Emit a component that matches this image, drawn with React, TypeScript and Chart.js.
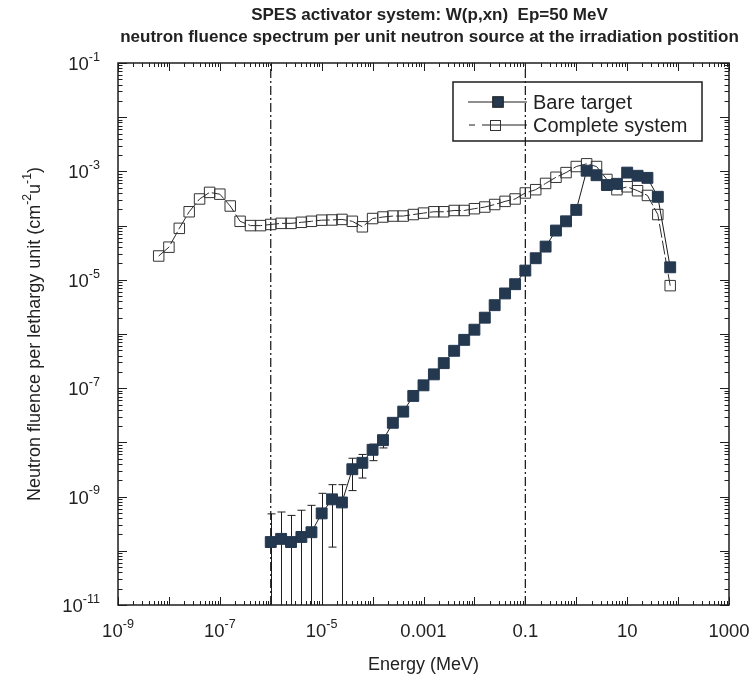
import React, { useEffect, useRef } from 'react';
import { Chart, registerables } from 'chart.js';

Chart.register(...registerables);

// Energy grid (MeV)
const energyMeV = [
  6.3e-9, 1e-8, 1.6e-8, 2.5e-8, 4e-8, 6.3e-8,
  1e-7, 1.6e-7, 2.5e-7, 4e-7, 6.3e-7,
  1e-6, 1.6e-6, 2.5e-6, 4e-6, 6.3e-6,
  1e-5, 1.6e-5, 2.5e-5, 4e-5, 6.3e-5,
  1e-4, 1.6e-4, 2.5e-4, 4e-4, 6.3e-4,
  1e-3, 1.6e-3, 2.5e-3, 4e-3, 6.3e-3,
  0.01, 0.016, 0.025, 0.04, 0.063,
  0.1, 0.16, 0.25, 0.4, 0.63,
  1, 1.6, 2.5, 4, 6.3,
  10, 16, 25, 40, 70,
];

const completeSystem = [
  2.75e-5, 4.0e-5, 8.9e-5, 1.8e-4, 3.1e-4, 4.1e-4,
  3.8e-4, 2.3e-4, 1.2e-4, 1.0e-4, 1.0e-4,
  1.05e-4, 1.1e-4, 1.1e-4, 1.15e-4, 1.2e-4,
  1.26e-4, 1.27e-4, 1.3e-4, 1.2e-4, 9.5e-5,
  1.35e-4, 1.44e-4, 1.5e-4, 1.5e-4, 1.6e-4,
  1.7e-4, 1.8e-4, 1.8e-4, 1.9e-4, 1.9e-4,
  2.05e-4, 2.2e-4, 2.45e-4, 2.8e-4, 3.1e-4,
  4.0e-4, 4.6e-4, 6.0e-4, 7.8e-4, 9.5e-4,
  1.23e-3, 1.38e-3, 1.23e-3, 7.1e-4, 4.6e-4,
  5.2e-4, 4.4e-4, 3.6e-4, 1.6e-4, 7.8e-6,
];

// Bare target starts at the 1e-6 MeV grid point
const bareStartIndex = 11;
const bareTarget = [
  1.45e-10, 1.66e-10, 1.45e-10, 1.8e-10, 2.2e-10,
  4.9e-10, 8.9e-10, 7.8e-10, 3.2e-9, 4.2e-9,
  7.3e-9, 1.1e-8, 2.3e-8, 3.7e-8, 7.2e-8,
  1.13e-7, 1.8e-7, 2.9e-7, 4.9e-7, 7.8e-7,
  1.2e-6, 2.0e-6, 3.4e-6, 5.6e-6, 8.3e-6,
  1.48e-5, 2.5e-5, 4.1e-5, 8.1e-5, 1.2e-4,
  1.95e-4, 1.03e-3, 8.5e-4, 5.6e-4, 5.9e-4,
  9.5e-4, 8.3e-4, 7.6e-4, 3.4e-4, 1.7e-5,
];

// Error bars of the bare target (low values below the axis run to the bottom)
const errEnergyMeV = [1e-6, 1.6e-6, 2.5e-6, 4e-6, 6.3e-6, 1e-5, 1.6e-5, 2.5e-5, 4e-5, 6.3e-5, 1e-4, 1.6e-4];
const errHigh = [4.8e-10, 5.2e-10, 4.5e-10, 5.6e-10, 6.9e-10, 1.15e-9, 1.66e-9, 1.66e-9, 5.1e-9, 6.0e-9, 9.3e-9, 1.3e-8];
const errLow = [1e-13, 1e-13, 1e-13, 1e-13, 1e-13, 1e-13, 1.17e-10, 1e-13, 1.29e-9, 2.2e-9, 4.6e-9, 7.9e-9];

// Vertical dash-dot marker lines (MeV)
const markerLinesMeV = [1e-6, 0.1];

const xMin = 1e-9;
const xMax = 1000;
const yMin = 1e-11;
const yMax = 0.1;

const xTickLabels = [
  { value: 1e-9, base: '10', exp: '-9' },
  { value: 1e-7, base: '10', exp: '-7' },
  { value: 1e-5, base: '10', exp: '-5' },
  { value: 1e-3, base: '0.001', exp: '' },
  { value: 0.1, base: '0.1', exp: '' },
  { value: 10, base: '10', exp: '' },
  { value: 1000, base: '1000', exp: '' },
];
const yTickLabels = [
  { value: 1e-1, base: '10', exp: '-1' },
  { value: 1e-3, base: '10', exp: '-3' },
  { value: 1e-5, base: '10', exp: '-5' },
  { value: 1e-7, base: '10', exp: '-7' },
  { value: 1e-9, base: '10', exp: '-9' },
  { value: 1e-11, base: '10', exp: '-11' },
];

const titleLines = [
  'SPES activator system: W(p,xn)  Ep=50 MeV',
  'neutron fluence spectrum per unit neutron source at the irradiation postition',
];
const xTitle = 'Energy (MeV)';
const yTitleSegs = [
  { t: 'Neutron fluence per lethargy unit (cm', sup: false },
  { t: '-2', sup: true },
  { t: 'u', sup: false },
  { t: '-1', sup: true },
  { t: ')', sup: false },
];
const legendLabels = ['Bare target', 'Complete system'];

const FF = '"Liberation Sans", Arial, Helvetica, sans-serif';
const INK = '#1e1e1e';
const FILL = '#243850';

type Seg = { t: string; sup: boolean };

function segWidth(ctx: CanvasRenderingContext2D, segs: Seg[], fs: number) {
  let w = 0;
  for (const s of segs) {
    ctx.font = `${s.sup ? fs * 0.68 : fs}px ${FF}`;
    w += ctx.measureText(s.t).width;
  }
  return w;
}

function drawSegs(ctx: CanvasRenderingContext2D, segs: Seg[], x: number, y: number, fs: number) {
  let cx = x;
  ctx.textAlign = 'left';
  ctx.textBaseline = 'middle';
  for (const s of segs) {
    ctx.font = `${s.sup ? fs * 0.68 : fs}px ${FF}`;
    ctx.fillText(s.t, cx, s.sup ? y - fs * 0.42 : y);
    cx += ctx.measureText(s.t).width;
  }
}

function labelSegs(l: { base: string; exp: string }): Seg[] {
  const s: Seg[] = [{ t: l.base, sup: false }];
  if (l.exp) s.push({ t: l.exp, sup: true });
  return s;
}

const decorPlugin = {
  id: 'decor',
  beforeDatasetsDraw(chart: any) {
    const { ctx, chartArea: a, scales } = chart;
    const x = scales.x;
    const y = scales.y;
    ctx.save();
    ctx.beginPath();
    ctx.rect(a.left, a.top, a.right - a.left, a.bottom - a.top);
    ctx.clip();
    ctx.strokeStyle = INK;
    ctx.lineWidth = 1;
    errEnergyMeV.forEach((e, i) => {
      const px = Math.round(x.getPixelForValue(e)) + 0.5;
      const ph = y.getPixelForValue(errHigh[i]);
      const pl = y.getPixelForValue(errLow[i]);
      ctx.beginPath();
      ctx.moveTo(px, ph);
      ctx.lineTo(px, pl);
      ctx.moveTo(px - 4, ph);
      ctx.lineTo(px + 4, ph);
      if (errLow[i] > yMin) {
        ctx.moveTo(px - 4, pl);
        ctx.lineTo(px + 4, pl);
      }
      ctx.stroke();
    });
    ctx.restore();
  },
  afterDraw(chart: any) {
    const { ctx, chartArea: a, scales } = chart;
    const x = scales.x;
    const y = scales.y;
    ctx.save();
    ctx.strokeStyle = INK;
    ctx.fillStyle = INK;

    // ticks (inward, all four sides)
    ctx.lineWidth = 1;
    ctx.beginPath();
    for (let d = -9; d <= 3; d++) {
      for (let m = 1; m <= 9; m++) {
        const v = m * Math.pow(10, d);
        if (v < xMin * 0.999 || v > xMax * 1.001) continue;
        const px = Math.round(x.getPixelForValue(v)) + 0.5;
        const len = m === 1 ? 8 : 4;
        ctx.moveTo(px, a.bottom);
        ctx.lineTo(px, a.bottom - len);
        ctx.moveTo(px, a.top);
        ctx.lineTo(px, a.top + len);
      }
    }
    for (let d = -11; d <= -1; d++) {
      for (let m = 1; m <= 9; m++) {
        const v = m * Math.pow(10, d);
        if (v < yMin * 0.999 || v > yMax * 1.001) continue;
        const py = Math.round(y.getPixelForValue(v)) + 0.5;
        const len = m === 1 ? 9 : 4.5;
        ctx.moveTo(a.left, py);
        ctx.lineTo(a.left + len, py);
        ctx.moveTo(a.right, py);
        ctx.lineTo(a.right - len, py);
      }
    }
    ctx.stroke();

    // frame
    ctx.lineWidth = 1.5;
    ctx.strokeRect(a.left, a.top, a.right - a.left, a.bottom - a.top);

    // tick labels
    const fs = 18.5;
    ctx.fillStyle = '#222';
    for (const l of xTickLabels) {
      const segs = labelSegs(l);
      const w = segWidth(ctx, segs, fs);
      const px = x.getPixelForValue(l.value);
      drawSegs(ctx, segs, px - w / 2, a.bottom + 27, fs);
    }
    for (const l of yTickLabels) {
      const segs = labelSegs(l);
      const w = segWidth(ctx, segs, fs);
      const py = y.getPixelForValue(l.value);
      drawSegs(ctx, segs, a.left - 18 - w, py + 2, fs);
    }

    // axis titles
    ctx.font = `18px ${FF}`;
    ctx.textAlign = 'center';
    ctx.textBaseline = 'middle';
    ctx.fillText(xTitle, (a.left + a.right) / 2, 665);

    ctx.save();
    ctx.translate(35, (a.top + a.bottom) / 2);
    ctx.rotate(-Math.PI / 2);
    const yw = segWidth(ctx, yTitleSegs, 18);
    drawSegs(ctx, yTitleSegs, -yw / 2, 0, 18);
    ctx.restore();

    // title
    ctx.font = `bold 17px ${FF}`;
    ctx.textAlign = 'center';
    ctx.textBaseline = 'middle';
    ctx.fillStyle = '#222';
    const cx = (a.left + a.right) / 2 + 6;
    ctx.fillText(titleLines[0], cx, 15);
    ctx.fillText(titleLines[1], cx, 37);

    // legend
    const lx = 453, ly = 82, lw = 249, lh = 59;
    ctx.lineWidth = 1.5;
    ctx.strokeStyle = INK;
    ctx.strokeRect(lx, ly, lw, lh);
    ctx.lineWidth = 1;
    const r1 = 102, r2 = 125;
    ctx.beginPath();
    ctx.moveTo(468, r1);
    ctx.lineTo(527, r1);
    ctx.stroke();
    ctx.fillStyle = FILL;
    ctx.fillRect(498 - 5.3, r1 - 5.3, 10.6, 10.6);
    ctx.strokeRect(498 - 5.3, r1 - 5.3, 10.6, 10.6);
    ctx.beginPath();
    ctx.moveTo(469, r2);
    ctx.lineTo(475, r2);
    ctx.moveTo(482, r2);
    ctx.lineTo(527, r2);
    ctx.stroke();
    ctx.strokeStyle = '#333';
    ctx.strokeRect(Math.round(495 - 5.3) + 0.5, Math.round(r2 - 5.3) + 0.5, 10, 10);
    ctx.fillStyle = '#222';
    ctx.font = `20px ${FF}`;
    ctx.textAlign = 'left';
    ctx.textBaseline = 'middle';
    ctx.fillText(legendLabels[0], 533, r1 + 1);
    ctx.fillText(legendLabels[1], 533, r2 + 1);

    ctx.restore();
  },
};

export default function App() {
  const ref = useRef<HTMLCanvasElement | null>(null);
  useEffect(() => {
    if (!ref.current) return;
    const completeData = energyMeV.map((e, i) => ({ x: e, y: completeSystem[i] }));
    const bareData = bareTarget.map((v, i) => ({ x: energyMeV[bareStartIndex + i], y: v }));
    const markerSets = markerLinesMeV.map((e) => ({
      label: 'marker',
      data: [
        { x: e, y: yMin },
        { x: e, y: yMax },
      ],
      borderColor: '#111',
      borderWidth: 1.2,
      borderDash: [9, 3, 2, 3],
      pointRadius: 0,
      fill: false,
      order: 3,
    }));
    const chart = new Chart(ref.current, {
      type: 'line',
      data: {
        datasets: [
          ...markerSets,
          {
            label: legendLabels[1],
            data: completeData,
            borderColor: '#2a2a2a',
            borderWidth: 1,
            borderDash: [14, 3],
            pointStyle: 'rect',
            pointRadius: 7.4,
            pointBorderWidth: 1,
            pointBorderColor: '#333',
            pointBackgroundColor: 'rgba(255,255,255,0)',
            fill: false,
            order: 2,
          },
          {
            label: legendLabels[0],
            data: bareData,
            borderColor: '#1a1a1a',
            borderWidth: 1,
            pointStyle: 'rect',
            pointRadius: 7.7,
            pointBorderWidth: 1,
            pointBorderColor: FILL,
            pointBackgroundColor: FILL,
            fill: false,
            order: 1,
          },
        ],
      },
      options: {
        responsive: false,
        animation: false,
        events: [],
        layout: { autoPadding: false, padding: { left: 118, right: 25, top: 63, bottom: 77 } },
        scales: {
          x: { type: 'logarithmic', min: xMin, max: xMax, display: false },
          y: { type: 'logarithmic', min: yMin, max: yMax, display: false },
        },
        plugins: {
          legend: { display: false },
          title: { display: false },
          tooltip: { enabled: false },
        },
      },
      plugins: [decorPlugin],
    } as any);
    return () => chart.destroy();
  }, []);
  return (
    <div style={{ position: 'absolute', left: 0, top: 0, width: 754, height: 682, background: '#fff' }}>
      <canvas ref={ref} width={754} height={682} />
    </div>
  );
}
